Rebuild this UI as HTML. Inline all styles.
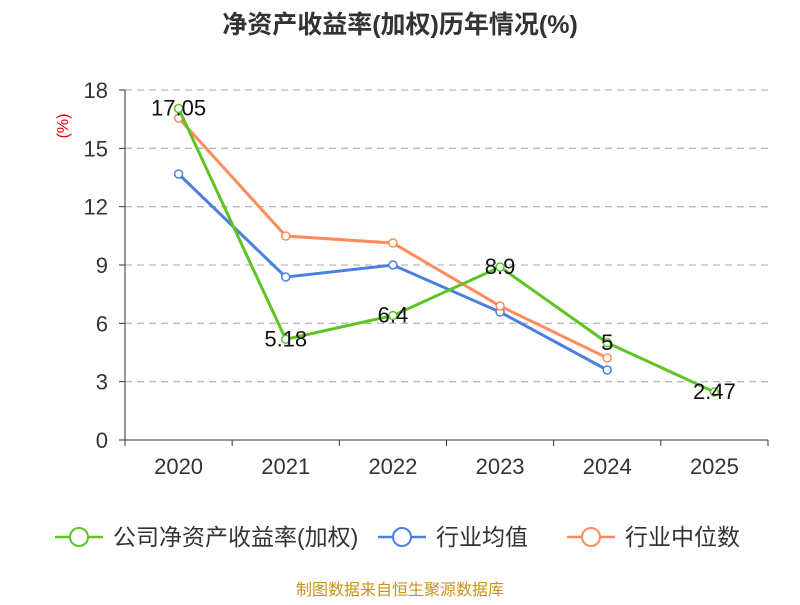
<!DOCTYPE html>
<html><head><meta charset="utf-8"><style>
body{margin:0;background:#fff;font-family:"Liberation Sans","Noto Sans CJK SC",sans-serif}
</style></head><body>
<svg width="800" height="600" xmlns="http://www.w3.org/2000/svg" font-family="'Liberation Sans','Noto Sans CJK SC',sans-serif">
<text x="400" y="33" text-anchor="middle" font-size="25" font-weight="bold" fill="#333">净资产收益率(加权)历年情况(%)</text>
<text x="68" y="126" text-anchor="middle" font-size="16" fill="#e00" transform="rotate(-90 68 126)">(%)</text>
<g id="grid"></g><g id="axes"></g><g id="series"></g>
<g>
<g><line x1="55" y1="537" x2="103" y2="537" stroke="#5cc423" stroke-width="2.5"/><circle cx="79" cy="537" r="9" fill="#fff" stroke="#5cc423" stroke-width="2"/><text x="113" y="545" font-size="23" fill="#333">公司净资产收益率(加权)</text></g>
<g><line x1="378" y1="537" x2="426" y2="537" stroke="#4c80e0" stroke-width="2.5"/><circle cx="402" cy="537" r="9" fill="#fff" stroke="#4c80e0" stroke-width="2"/><text x="436" y="545" font-size="23" fill="#333">行业均值</text></g>
<g><line x1="567" y1="537" x2="615" y2="537" stroke="#ff8c5a" stroke-width="2.5"/><circle cx="591" cy="537" r="9" fill="#fff" stroke="#ff8c5a" stroke-width="2"/><text x="625" y="545" font-size="23" fill="#333">行业中位数</text></g>
</g>
<text x="400" y="595" text-anchor="middle" font-size="16" fill="#c8921e">制图数据来自恒生聚源数据库</text>
</svg>
<script>
const categories=["2020","2021","2022","2023","2024","2025"];
const yTicks=[0,3,6,9,12,15,18];
const company=[17.05,5.18,6.4,8.9,5,2.47];
const companyLabels=["17.05","5.18","6.4","8.9","5","2.47"];
const industryAvg=[13.68,8.38,9.0,6.58,3.6];
const industryMedian=[16.56,10.49,10.13,6.89,4.22];
const NS="http://www.w3.org/2000/svg";
const x0=125,x1=768,y0=440,y1=90;
const bw=(x1-x0)/categories.length;
const xs=i=>x0+bw*(i+0.5);
const ys=v=>y0-(v/18)*(y0-y1);
function mk(tag,attrs,parent){const e=document.createElementNS(NS,tag);for(const k in attrs)e.setAttribute(k,attrs[k]);parent.appendChild(e);return e;}
const grid=document.getElementById('grid'),axes=document.getElementById('axes'),ser=document.getElementById('series');
yTicks.forEach(t=>{
 if(t>0){const l=mk('line',{x1:x0,x2:x1,y1:ys(t),y2:ys(t),stroke:'#bbb','stroke-dasharray':'7,5','stroke-width':1.3},grid);
 
 }
 const tx=mk('text',{x:108,y:ys(t)+8,'text-anchor':'end','font-size':22,fill:'#333'},axes);tx.textContent=t;
 
 
 mk('line',{x1:x0-6,x2:x0,y1:ys(t),y2:ys(t),stroke:'#333'},axes);
});
mk('line',{x1:x0,x2:x0,y1:y1,y2:y0,stroke:'#333'},axes);
mk('line',{x1:x0,x2:x1,y1:y0,y2:y0,stroke:'#333'},axes);
categories.forEach((c,i)=>{
 mk('line',{x1:x0+bw*i,x2:x0+bw*i,y1:y0,y2:y0+6,stroke:'#333'},axes);
 const tx=mk('text',{x:xs(i),y:474,'text-anchor':'middle','font-size':22,fill:'#333'},axes);tx.textContent=c;
 
 
});
mk('line',{x1:x1,x2:x1,y1:y0,y2:y0+6,stroke:'#333'},axes);
function series(vals,color,name){
 const g=mk('g',{},ser);
 
 
 const p=mk('polyline',{points:vals.map((v,i)=>xs(i)+','+ys(v)).join(' '),fill:'none',stroke:color,'stroke-width':3},g);
 
 
 vals.forEach((v,i)=>{const c=mk('circle',{cx:xs(i),cy:ys(v),r:4,fill:'#fff',stroke:color,'stroke-width':1.5},g);
 
 });
}
series(industryAvg,'#4c80e0','industry-avg');
series(industryMedian,'#ff8c5a','industry-median');
series(company,'#5cc423','company');
company.forEach((v,i)=>{const t=mk('text',{x:xs(i),y:ys(v)+7,'text-anchor':'middle','font-size':22,fill:'#111'},ser);t.textContent=companyLabels[i];
 
 });
</script>
</body></html>
